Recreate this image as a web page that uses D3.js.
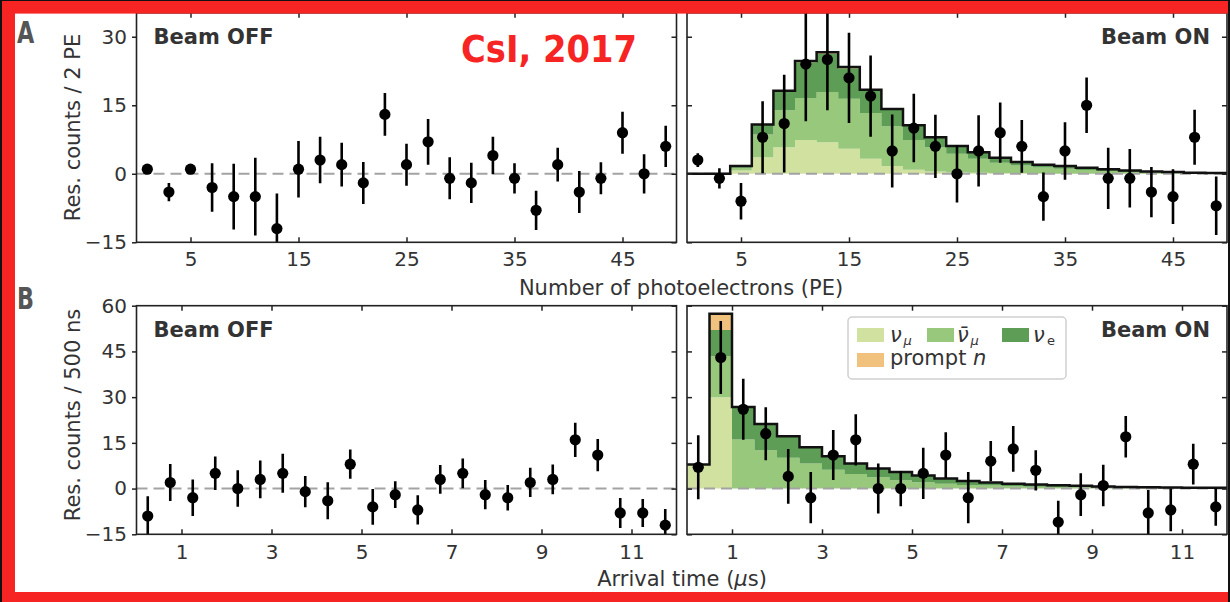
<!DOCTYPE html>
<html><head><meta charset="utf-8">
<script src="https://cdn.jsdelivr.net/npm/d3@7"></script>
<style>
body{margin:0;background:#fff}
svg{display:block}
text{font-family:"DejaVu Sans",sans-serif}
</style>
</head><body>
<svg id="c" width="1230" height="602"></svg>
<script>
// ---------- DATA ----------
// Panel A: residual counts per 2 PE bin (bin centres)
const peCenters = [1,3,5,7,9,11,13,15,17,19,21,23,25,27,29,31,33,35,37,39,41,43,45,47,49];
const peOffVals = [1,-4,1,-3,-5,-5,-12,1,3,2,-2,13,2,7,-1,-2,4,-1,-8,2,-4,-1,9,0,6];
const peOffErr  = [0.6,2,0.6,5.3,7.2,8.5,7.7,6.2,5.1,4.8,4.6,4.7,4.6,5,4.6,4.4,4.1,3.3,4.3,3.7,4.6,3.5,4.6,4.3,4.5];
const peOnVals  = [3,-1,-6,8,11,24,25,21,17,5,10,6,0,5,9,6,-5,5,15,-1,-1,-4,-5,8,-7];
const peOnErr   = [1.5,2.2,4,7.9,10.7,12.5,11.1,9.9,8.9,8,7.5,6.9,6.3,7.8,6.6,5.8,5.3,6.3,6.1,6.7,6.4,5.5,6,6,6.4];
// Panel A: stacked prediction components
const peNuMu    = [0,0,0.7,3.6,5.8,7.4,6.9,5.5,3.3,1.7,0.9,0.5,0.3,0.2,0.1,0.1,0.05,0,0,0,0,0,0,0,0];
const peNuMuBar = [0,0,0.6,5.0,8.1,9.2,11.0,10.9,10.0,8.7,6.5,5.3,4.1,3.1,2.3,1.7,1.35,1.1,0.8,0.6,0.4,0.3,0.2,0.1,0.1];
const peNuE     = [0,0,0.4,2.1,4.1,7.8,8.4,6.7,4.8,3.6,3.1,2.1,1.6,1.4,1.1,0.8,0.6,0.6,0.5,0.4,0.3,0.2,0.2,0.1,0.05];
const pePrompt  = [0,0,0,0.1,0.2,0.3,0.3,0.3,0.3,0.2,0.1,0.1,0.1,0,0,0,0,0,0,0,0,0,0,0,0];

// Panel B: residual counts per 500 ns bin (bin centres, microseconds)
const tCenters = [0.25,0.75,1.25,1.75,2.25,2.75,3.25,3.75,4.25,4.75,5.25,5.75,6.25,6.75,7.25,7.75,8.25,8.75,9.25,9.75,10.25,10.75,11.25,11.75];
const tOffVals = [-9,2,-3,5,0,3,5,-1,-4,8,-6,-2,-7,3,5,-2,-3,2,3,16,11,-8,-8,-12];
const tOffErr  = [6.5,6.1,6,5.5,6,6.2,6.4,5.1,6.1,4.8,5.9,4.4,4.8,4.7,4.9,4.8,4.2,4.8,4.9,5.6,5.3,4.9,4.6,5.3];
const tOnVals  = [7,43,26,18,4,-3,11,16,0,0,5,11,-3,9,13,6,-11,-2,1,17,-8,-7,8,-6];
const tOnErr   = [10.5,12,10,8.7,9,8.4,8.2,8.4,8.2,5.8,8.4,7.5,8.4,6.6,7.5,6.6,7,7,6.8,6.8,7.5,7,6.7,6.2];
const tNuMu    = [7.9,30,0,0,0,0,0,0,0,0,0,0,0,0,0,0,0,0,0,0,0,0,0,0];
const tNuMuBar = [0,13.5,16.1,12.6,10.1,8.2,6.2,4.8,3.7,2.7,2.1,1.6,1.2,1.0,0.8,0.6,0.5,0.4,0.3,0.25,0.2,0.15,0.1,0.1];
const tNuE     = [0,8.5,10.7,8.6,7.1,5.4,4.4,3.4,2.9,2.7,2.2,1.7,1.3,1.0,0.8,0.7,0.6,0.5,0.4,0.3,0.25,0.2,0.2,0.15];
const tPrompt  = [0,5.4,0,0,0,0,0,0,0,0,0,0,0,0,0,0,0,0,0,0,0,0,0,0];

const peTicksX = [5,15,25,35,45];
const peTicksY = [-15,0,15,30];
const tTicksX  = [1,3,5,7,9,11];
const tTicksY  = [-15,0,15,30,45,60];

const compKeys   = ["nuMu","nuMuBar","nuE","prompt"];
const compColors = {nuMu:"#d1e1a0", nuMuBar:"#98c87b", nuE:"#5e9d55", prompt:"#f0c27e"};

// ---------- DRAW ----------
const svg = d3.select("#c");
const TXT = "#333";
let clipN = 0;
const fmt = d => d < 0 ? "\u2212" + Math.abs(d) : String(d);

function panel(o) {
  const x = d3.scaleLinear().domain(o.xDom).range([o.x0, o.x1]);
  const y = d3.scaleLinear().domain(o.yDom).range([o.y1, o.y0]);
  const g = svg.append("g");
  const cid = "clip" + (clipN++);
  svg.append("defs").append("clipPath").attr("id", cid)
    .append("rect").attr("x", o.x0).attr("y", o.y0).attr("width", o.x1 - o.x0).attr("height", o.y1 - o.y0);
  const plot = g.append("g").attr("clip-path", `url(#${cid})`);
  const zero = () => plot.append("line").attr("x1", o.x0).attr("x2", o.x1).attr("y1", y(0)).attr("y2", y(0))
      .attr("stroke", "#a3a3a3").attr("stroke-width", 2).attr("stroke-dasharray", "11,6");

  if (o.comps) {
    const rows = o.centers.map((c, i) => {
      const r = {};
      compKeys.forEach(k => r[k] = o.comps[k][i]);
      return r;
    });
    const stack = d3.stack().keys(compKeys)(rows);
    const half = o.binW / 2;
    stack.forEach(layer => {
      const pts = layer.map((d, i) => ({e: o.centers[i] - half, lo: d[0], hi: d[1]}));
      const last = pts[pts.length - 1];
      pts.push({e: last.e + o.binW, lo: last.lo, hi: last.hi});
      plot.append("path").datum(pts)
        .attr("fill", compColors[layer.key])
        .attr("d", d3.area().curve(d3.curveStepAfter).x(d => x(d.e)).y0(d => y(d.lo)).y1(d => y(d.hi)));
    });
    zero();
    const tot = rows.map((r, i) => ({e: o.centers[i] - half, v: compKeys.reduce((s, k) => s + r[k], 0)}));
    tot.push({e: tot[tot.length - 1].e + o.binW, v: tot[tot.length - 1].v});
    plot.append("path").datum(tot).attr("fill", "none").attr("stroke", "#111").attr("stroke-width", 2.5)
      .attr("d", d3.line().curve(d3.curveStepAfter).x(d => x(d.e)).y(d => y(d.v)));
  } else {
    zero();
  }

  const pts = o.centers.map((c, i) => ({c, v: o.vals[i], e: o.errs[i]}));
  plot.selectAll(".eb").data(pts).enter().append("line")
    .attr("x1", d => x(d.c)).attr("x2", d => x(d.c))
    .attr("y1", d => y(d.v - d.e)).attr("y2", d => y(d.v + d.e))
    .attr("stroke", "#000").attr("stroke-width", 2.6);
  plot.selectAll(".pt").data(pts).enter().append("circle")
    .attr("cx", d => x(d.c)).attr("cy", d => y(d.v)).attr("r", 5.6).attr("fill", "#000");

  const styleAx = sel => {
    sel.select(".domain").remove();
    sel.selectAll(".tick line").attr("stroke", "#222").attr("stroke-width", 1.5);
    sel.selectAll(".tick text").attr("fill", TXT).attr("font-size", 20).attr("font-family", '"DejaVu Sans",sans-serif');
  };
  g.append("g").attr("transform", `translate(0,${o.y1})`)
    .call(d3.axisBottom(x).tickValues(o.xTicks).tickSizeInner(-5).tickSizeOuter(0).tickPadding(o.xPad).tickFormat(fmt))
    .call(styleAx);
  g.append("g").attr("transform", `translate(0,${o.y0})`)
    .call(d3.axisTop(x).tickValues(o.xTicks).tickSizeInner(-5).tickSizeOuter(0).tickFormat(""))
    .call(styleAx);
  if (o.leftLabels) {
    g.append("g").attr("transform", `translate(${o.x0},0)`)
      .call(d3.axisLeft(y).tickValues(o.yTicks).tickSizeInner(4.5).tickSizeOuter(0).tickPadding(5).tickFormat(fmt))
      .call(styleAx);
  } else {
    g.append("g").attr("transform", `translate(${o.x0},0)`)
      .call(d3.axisLeft(y).tickValues(o.yTicks).tickSizeInner(-5).tickSizeOuter(0).tickFormat(""))
      .call(styleAx);
  }
  g.append("g").attr("transform", `translate(${o.x1},0)`)
    .call(d3.axisRight(y).tickValues(o.yTicks).tickSizeInner(-5).tickSizeOuter(0).tickFormat(""))
    .call(styleAx);

  g.append("rect").attr("x", o.x0).attr("y", o.y0).attr("width", o.x1 - o.x0).attr("height", o.y1 - o.y0)
    .attr("fill", "none").attr("stroke", "#222").attr("stroke-width", 1.6);

  const t = g.append("text").attr("font-weight", "bold").attr("font-size", 21).attr("fill", TXT)
    .attr("y", o.capY).text(o.caption);
  if (o.capRight) t.attr("x", o.x1 - 17).attr("text-anchor", "end");
  else t.attr("x", o.x0 + 17);
  return {x, y, g};
}

const LX0 = 136.5, LX1 = 676.5, RX0 = 687, RX1 = 1227;
const AY0 = 12.8, AY1 = 242.3, BY0 = 305.7, BY1 = 534.3;
const ATOP = 35.24;

panel({x0: LX0, x1: LX1, y0: AY0, y1: AY1, xDom: [0, 50], yDom: [-15, ATOP], xTicks: peTicksX, yTicks: peTicksY,
  leftLabels: true, centers: peCenters, vals: peOffVals, errs: peOffErr, binW: 2, xPad: 10,
  caption: "Beam OFF", capY: 44.4});
panel({x0: RX0, x1: RX1, y0: AY0, y1: AY1, xDom: [0, 50], yDom: [-15, ATOP], xTicks: peTicksX, yTicks: peTicksY,
  leftLabels: false, centers: peCenters, vals: peOnVals, errs: peOnErr, binW: 2, xPad: 10,
  comps: {nuMu: peNuMu, nuMuBar: peNuMuBar, nuE: peNuE, prompt: pePrompt},
  caption: "Beam ON", capY: 44.4, capRight: true});
panel({x0: LX0, x1: LX1, y0: BY0, y1: BY1, xDom: [0, 12], yDom: [-15, 60], xTicks: tTicksX, yTicks: tTicksY,
  leftLabels: true, centers: tCenters, vals: tOffVals, errs: tOffErr, binW: 0.5, xPad: 11,
  caption: "Beam OFF", capY: 336.7});
panel({x0: RX0, x1: RX1, y0: BY0, y1: BY1, xDom: [0, 12], yDom: [-15, 60], xTicks: tTicksX, yTicks: tTicksY,
  leftLabels: false, centers: tCenters, vals: tOnVals, errs: tOnErr, binW: 0.5, xPad: 11,
  comps: {nuMu: tNuMu, nuMuBar: tNuMuBar, nuE: tNuE, prompt: tPrompt},
  caption: "Beam ON", capY: 336.7, capRight: true});

// legend
const lg = svg.append("g");
lg.append("rect").attr("x", 848).attr("y", 317).attr("width", 218).attr("height", 62).attr("rx", 4)
  .attr("fill", "#fff").attr("fill-opacity", 0.85).attr("stroke", "#d0d0d0").attr("stroke-width", 1.5);
const legItems = [
  {key: "nuMu", x: 857, y: 328},
  {key: "nuMuBar", x: 927, y: 328},
  {key: "nuE", x: 1002, y: 328},
  {key: "prompt", x: 857, y: 353}
];
legItems.forEach(it => lg.append("rect").attr("x", it.x).attr("y", it.y).attr("width", 27).attr("height", 14)
  .attr("fill", compColors[it.key]));
function legText(x, y, s, opts) {
  const t = lg.append("text").attr("x", x).attr("y", y).attr("font-size", opts.size || 21).attr("fill", TXT).text(s);
  if (opts.italic) t.attr("font-style", "italic");
  return t;
}
legText(890, 342, "ν", {italic: true});
legText(903.5, 345, "μ", {italic: true, size: 13});
legText(957, 342, "ν\u0304", {italic: true});
legText(970.5, 345, "μ", {italic: true, size: 13});
legText(1033, 342, "ν", {italic: true});
legText(1047, 345, "e", {size: 13});
const pt = lg.append("text").attr("x", 890).attr("y", 364.5).attr("font-size", 21).attr("fill", TXT);
pt.append("tspan").text("prompt ");
pt.append("tspan").attr("font-style", "italic").text("n");

// axis titles
svg.append("text").attr("transform", "translate(80,127.5) rotate(-90)").attr("text-anchor", "middle")
  .attr("font-size", 21).attr("fill", TXT).text("Res. counts / 2 PE");
svg.append("text").attr("transform", "translate(80,415) rotate(-90)").attr("text-anchor", "middle")
  .attr("font-size", 21).attr("fill", TXT).text("Res. counts / 500 ns");
svg.append("text").attr("x", 681).attr("y", 295).attr("text-anchor", "middle")
  .attr("font-size", 21).attr("fill", TXT).text("Number of photoelectrons (PE)");
const at = svg.append("text").attr("x", 682).attr("y", 586).attr("text-anchor", "middle")
  .attr("font-size", 21).attr("fill", TXT);
at.append("tspan").text("Arrival time (");
at.append("tspan").attr("font-style", "italic").text("μ");
at.append("tspan").text("s)");

// panel letters (condensed bold)
svg.append("text").attr("transform", "translate(17,43) scale(0.72,1)").attr("font-weight", "bold")
  .attr("font-size", 31).attr("fill", "#555").text("A");
svg.append("text").attr("transform", "translate(17,309) scale(0.72,1)").attr("font-weight", "bold")
  .attr("font-size", 31).attr("fill", "#555").text("B");

// frame
const RED = "#f72424";
svg.append("rect").attr("x", 0).attr("y", 0).attr("width", 1230).attr("height", 13.6).attr("fill", RED);
svg.append("rect").attr("x", 0).attr("y", 0).attr("width", 15).attr("height", 602).attr("fill", RED);
svg.append("rect").attr("x", 0).attr("y", 592).attr("width", 1230).attr("height", 10).attr("fill", RED);
svg.append("rect").attr("x", 0).attr("y", 0).attr("width", 1230).attr("height", 1).attr("fill", "#111");
svg.append("rect").attr("x", 0).attr("y", 0).attr("width", 2).attr("height", 602).attr("fill", "#111");
svg.append("rect").attr("x", 1228).attr("y", 0).attr("width", 2).attr("height", 602).attr("fill", "#111");

// title
svg.append("text").attr("x", 461).attr("y", 61.5).attr("font-weight", "bold").attr("font-size", 37)
  .attr("textLength", 176).attr("lengthAdjust", "spacingAndGlyphs").attr("fill", RED).text("CsI, 2017");
</script>
</body></html>
